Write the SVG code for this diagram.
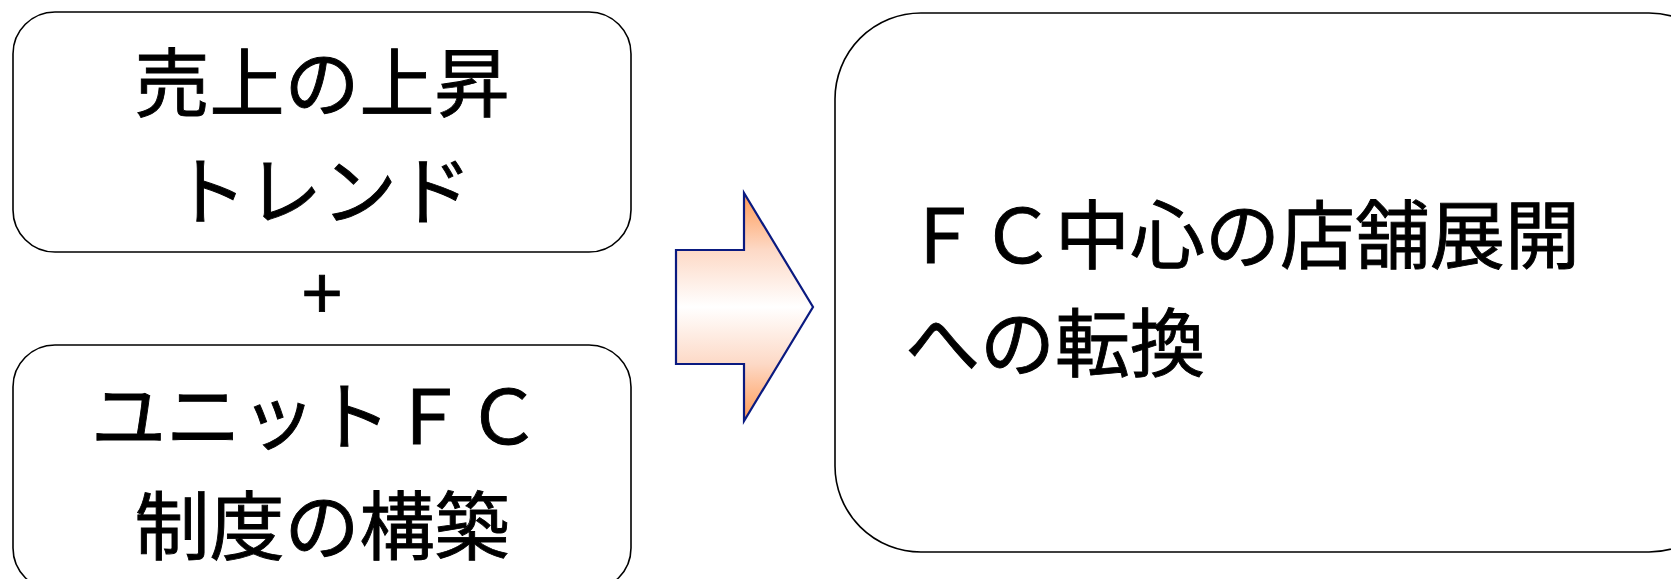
<svg xmlns="http://www.w3.org/2000/svg" width="1671" height="579" viewBox="0 0 1671 579">
<style>
.box{fill:#fff;stroke:#000;stroke-width:1.6}
.t{font-family:"Noto Sans CJK JP","Noto Sans",sans-serif;font-size:75px;fill:#000;stroke:#000;stroke-width:0.9}
.c{text-anchor:middle}
</style>
<defs>
<linearGradient id="ag" x1="0" y1="0" x2="0" y2="1">
<stop offset="0" stop-color="#FF9A55"/>
<stop offset="0.25" stop-color="#FDD9C6"/>
<stop offset="0.5" stop-color="#FFFFFF"/>
<stop offset="0.75" stop-color="#FDD9C6"/>
<stop offset="1" stop-color="#FF9A55"/>
</linearGradient>
</defs>
<rect width="1671" height="579" fill="#fff"/>
<g id="node-sales">
<rect class="box" x="13" y="12" width="618" height="240" rx="42" ry="42"/>
<text class="t c" x="322" y="111">売上の上昇</text>
<text class="t c" x="322" y="219">トレンド</text>
</g>
<g id="plus">
<text class="t c" x="322" y="320" style="font-size:72px">+</text>
</g>
<g id="node-unitfc">
<rect class="box" x="13" y="345" width="618" height="245" rx="42" ry="42"/>
<text class="t c" x="316" y="444">ユニットＦＣ</text>
<text class="t c" x="322" y="554">制度の構築</text>
</g>
<g id="connectors">
<path d="M676,250 H744 V193 L813,307 L744,421 V364 H676 Z" fill="url(#ag)" stroke="#0A1A80" stroke-width="2.2" stroke-linejoin="miter"/>
</g>
<g id="node-result">
<rect class="box" x="835" y="13" width="900" height="539" rx="86" ry="86"/>
<text class="t" x="905" y="263">ＦＣ中心の店舗展開</text>
<text class="t" x="905" y="371">への転換</text>
</g>
</svg>
